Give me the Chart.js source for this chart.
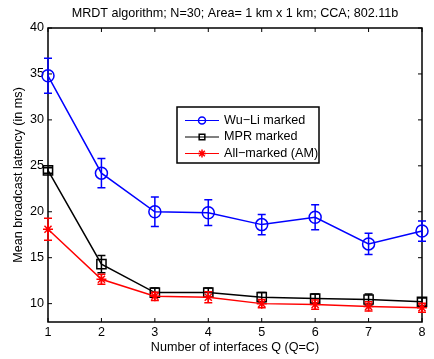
<!DOCTYPE html>
<html>
<head>
<meta charset="utf-8">
<script src="https://cdn.jsdelivr.net/npm/chart.js@4"></script>
<style>
  html, body { margin: 0; padding: 0; background: #fff; }
  #wrap { width: 434px; height: 359px; }
</style>
</head>
<body>
<div id="wrap"><canvas id="chart" width="434" height="359"></canvas></div>
<script>
// Number of interfaces Q
const interfaces = [1, 2, 3, 4, 5, 6, 7, 8];
// Wu-Li marked
const wuLiMean = [34.8, 24.2, 20.0, 19.9, 18.6, 19.4, 16.5, 17.9];
const wuLiErr  = [1.9, 1.6, 1.6, 1.4, 1.1, 1.35, 1.15, 1.1];
// MPR marked
const mprMean = [24.5, 14.3, 11.2, 11.2, 10.7, 10.55, 10.45, 10.2];
const mprErr  = [0.3, 0.95, 0.5, 0.5, 0.5, 0.5, 0.6, 0.4];
// All-marked (AM)
const amMean = [18.1, 12.65, 10.8, 10.7, 10.0, 9.9, 9.7, 9.55];
const amErr  = [1.2, 0.55, 0.45, 0.6, 0.45, 0.5, 0.5, 0.5];

const yTicks = [10, 15, 20, 25, 30, 35, 40];
const titleText = 'MRDT algorithm; N=30; Area= 1 km x 1 km; CCA; 802.11b';
const FONT = 'Liberation Sans, Arial, Helvetica, sans-serif';
const FSIZE = 12.6;

const toPoints = (ys, errs) => interfaces.map((x, i) => ({ x: x, y: ys[i], err: errs[i] }));

function series(label, color, ys, errs, style, radius, order) {
    return {
        label: label,
        data: toPoints(ys, errs),
        borderColor: color,
        backgroundColor: 'transparent',
        borderWidth: 1.5,
        pointStyle: style,
        pointRadius: radius,
        pointBorderWidth: 1.5,
        pointBorderColor: color,
        pointBackgroundColor: 'transparent',
        tension: 0,
        clip: false,
        order: order
    };
}

// error bars, drawn right after each dataset
const errorBars = {
    id: 'errorBars',
    afterDatasetDraw(chart, args) {
        const ctx = chart.ctx;
        const ds = chart.data.datasets[args.index];
        const y = chart.scales.y;
        ctx.save();
        ctx.strokeStyle = ds.borderColor;
        ctx.lineWidth = 1.5;
        args.meta.data.forEach((pt, i) => {
            const d = ds.data[i];
            const top = y.getPixelForValue(d.y + d.err);
            const bot = y.getPixelForValue(d.y - d.err);
            ctx.beginPath();
            ctx.moveTo(pt.x, top); ctx.lineTo(pt.x, bot);
            ctx.moveTo(pt.x - 4, top); ctx.lineTo(pt.x + 4, top);
            ctx.moveTo(pt.x - 4, bot); ctx.lineTo(pt.x + 4, bot);
            ctx.stroke();
        });
        ctx.restore();
    }
};

// matlab style box with inward ticks, title centred over the axes
const axesBox = {
    id: 'axesBox',
    beforeDatasetsDraw(chart) {
        const { ctx, chartArea: a, scales } = chart;
        ctx.save();
        ctx.strokeStyle = '#000';
        ctx.lineWidth = 1.5;
        ctx.strokeRect(a.left, a.top, a.right - a.left, a.bottom - a.top);
        ctx.lineWidth = 1;
        ctx.beginPath();
        interfaces.forEach(v => {
            const px = scales.x.getPixelForValue(v);
            ctx.moveTo(px, a.bottom); ctx.lineTo(px, a.bottom - 4);
            ctx.moveTo(px, a.top); ctx.lineTo(px, a.top + 4);
        });
        yTicks.forEach(v => {
            const py = scales.y.getPixelForValue(v);
            ctx.moveTo(a.left, py); ctx.lineTo(a.left + 4, py);
            ctx.moveTo(a.right, py); ctx.lineTo(a.right - 4, py);
        });
        ctx.stroke();

        ctx.fillStyle = '#000';
        ctx.font = FSIZE + 'px ' + FONT;
        ctx.textAlign = 'center';
        ctx.textBaseline = 'middle';
        ctx.fillText(titleText, (a.left + a.right) / 2, 14);
        ctx.restore();
    }
};

// legend box inside the plot
const boxLegend = {
    id: 'boxLegend',
    afterDraw(chart) {
        const ctx = chart.ctx;
        const x0 = 177, y0 = 107, w = 142, h = 56;
        ctx.save();
        ctx.fillStyle = '#fff';
        ctx.fillRect(x0, y0, w, h);
        ctx.strokeStyle = '#000';
        ctx.lineWidth = 1.5;
        ctx.strokeRect(x0, y0, w, h);
        const rows = [120.5, 137, 153.5];
        chart.data.datasets.forEach((ds, i) => {
            const ry = rows[i];
            ctx.strokeStyle = ds.borderColor;
            ctx.lineWidth = 1;
            ctx.beginPath();
            ctx.moveTo(185, ry); ctx.lineTo(219, ry);
            ctx.stroke();
            ctx.lineWidth = 1.5;
            ctx.fillStyle = 'rgba(0,0,0,0)';
            Chart.helpers.drawPoint(ctx, {
                pointStyle: ds.pointStyle, radius: ds.pointStyle === 'circle' ? 3.5 : 4,
                rotation: 0, borderWidth: 1.5
            }, 202, ry);
            ctx.fillStyle = '#000';
            ctx.font = FSIZE + 'px ' + FONT;
            ctx.textBaseline = 'middle';
            ctx.textAlign = 'left';
            ctx.fillText(ds.label, 224, ry);
        });
        ctx.restore();
    }
};

new Chart(document.getElementById('chart'), {
    type: 'line',
    data: {
        datasets: [
            series('Wu\u2212Li marked', '#0000ff', wuLiMean, wuLiErr, 'circle', 6, 2),
            series('MPR marked', '#000000', mprMean, mprErr, 'rect', 6.5, 1),
            series('All\u2212marked (AM)', '#ff0000', amMean, amErr, 'star', 5, 0)
        ]
    },
    options: {
        responsive: false,
        animation: false,
        devicePixelRatio: 1,
        layout: { padding: { left: 0, right: 12, top: 28, bottom: 0 } },
        plugins: {
            legend: { display: false },
            tooltip: { enabled: false },
            title: { display: false }
        },
        scales: {
            x: {
                type: 'linear',
                min: 1, max: 8,
                afterFit(scale) { scale.height = 37; },
                afterBuildTicks(scale) { scale.ticks = interfaces.map(v => ({ value: v })); },
                grid: { display: false, drawTicks: false },
                border: { display: false },
                ticks: { color: '#000', padding: 3, font: { family: FONT, size: FSIZE } },
                title: {
                    display: true, text: 'Number of interfaces Q (Q=C)', color: '#000',
                    font: { family: FONT, size: FSIZE }, padding: { top: 0, bottom: 4 }
                }
            },
            y: {
                min: 8, max: 40,
                afterFit(scale) { scale.width = 48; },
                afterBuildTicks(scale) { scale.ticks = yTicks.map(v => ({ value: v })); },
                grid: { display: false, drawTicks: false },
                border: { display: false },
                ticks: { color: '#000', padding: 4, font: { family: FONT, size: FSIZE } },
                title: {
                    display: true, text: 'Mean broadcast latency (in ms)', color: '#000',
                    font: { family: FONT, size: FSIZE }, padding: { top: 10.5, bottom: 0 }
                }
            }
        }
    },
    plugins: [axesBox, errorBars, boxLegend]
});
</script>
</body>
</html>
